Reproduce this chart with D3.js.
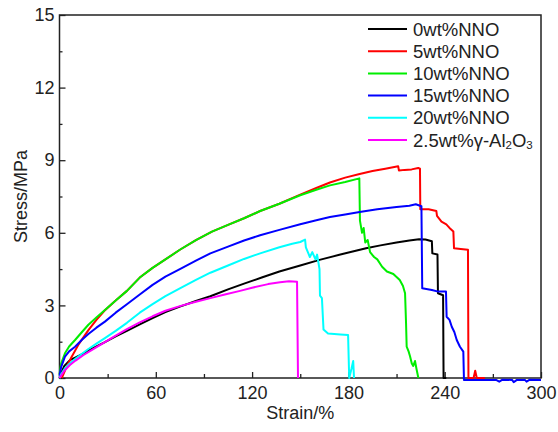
<!DOCTYPE html>
<html>
<head>
<meta charset="utf-8">
<script src="https://cdn.jsdelivr.net/npm/d3@7"></script>
<style>
  body { margin: 0; background: #fff; }
  svg text { font-family: Arial, "Liberation Sans", sans-serif; fill: #222; }
</style>
</head>
<body>
<script>
// series values: [strain %, stress MPa]
var black = [[0,0],[1,0.2],[3,0.5],[6.5,0.74],[10,0.85],[15,1.02],[20,1.2],[28,1.47],[35,1.72],[42,1.95],[50,2.22],[58,2.48],[66,2.72],[75,2.95],[85,3.18],[94,3.38],[105,3.66],[115,3.9],[126,4.15],[137,4.4],[150,4.65],[162,4.88],[175,5.1],[191,5.36],[200,5.48],[210,5.6],[218,5.68],[224,5.73],[228,5.72],[232,5.65],[232.3,5.15],[235.5,5.1],[235.8,3.5],[239,3.42],[239.3,0],[241,0]];
var red = [[1.4,0],[4,0.4],[7.6,0.88],[12,1.4],[18,1.98],[23,2.4],[28,2.78],[35,3.2],[42,3.6],[50,4.15],[58,4.55],[66,4.9],[75,5.3],[85,5.7],[95,6.05],[105,6.33],[115,6.6],[125,6.9],[137,7.2],[150,7.58],[160,7.85],[168.5,8.08],[178,8.28],[187,8.43],[195,8.55],[203,8.65],[211,8.75],[211.5,8.57],[215,8.6],[219.4,8.62],[223.5,8.68],[224.6,8.65],[224.8,6.97],[230,6.97],[234.8,6.9],[235.2,6.7],[238,6.46],[241,6.35],[243,6.2],[245.4,6.05],[245.8,5.36],[250,5.33],[254.5,5.3],[254.8,0],[258,0],[259,0.3],[260,0],[265,0]];
var green = [[0,0.15],[1,0.6],[3.4,1.02],[6,1.3],[9.7,1.57],[14,1.9],[18,2.2],[23,2.5],[28.3,2.81],[35,3.2],[42,3.6],[50,4.15],[58,4.55],[66,4.9],[75,5.3],[85,5.7],[95,6.05],[105,6.33],[115,6.6],[125,6.9],[137,7.2],[150,7.55],[160,7.78],[168.5,7.96],[178,8.1],[186.8,8.25],[187.2,6.5],[188.5,6.0],[189.5,6.2],[190.5,5.6],[192,5.7],[193.5,5.2],[196,5.0],[198,4.9],[201,4.6],[204,4.4],[208,4.3],[212,4.05],[214,3.8],[215.3,3.5],[215.9,2.3],[216.3,1.3],[217.5,1.1],[218.4,0.9],[219.5,0.6],[220.4,0.5],[221.5,0.7],[222.5,0.35],[223.6,0]];
var blue = [[0,0.1],[1,0.45],[3.4,0.88],[6,1.1],[9.7,1.29],[14,1.58],[18,1.82],[23,2.08],[28.3,2.33],[35,2.7],[42,3.05],[50,3.45],[58,3.85],[66,4.19],[75,4.5],[85,4.85],[94,5.15],[105,5.43],[115,5.68],[125,5.9],[137,6.12],[150,6.35],[160,6.52],[168.5,6.65],[178,6.76],[187,6.86],[198,6.97],[210,7.07],[218,7.12],[222,7.18],[225.5,7.1],[226,3.71],[232,3.64],[236,3.57],[240.8,3.57],[241.2,2.53],[243,2.4],[244.4,2.12],[246,1.9],[247.5,1.57],[249.5,1.29],[251.6,1.09],[252,-0.08],[272,-0.08],[274,-0.15],[276,-0.07],[282,-0.08],[283,-0.17],[285,-0.08],[290,-0.08],[291,-0.15],[293,-0.07],[300,-0.08]];
var cyan = [[0,0],[1,0.15],[3.4,0.4],[6,0.58],[9.7,0.78],[14,1.0],[18,1.2],[23,1.42],[28.3,1.65],[35,1.95],[42,2.28],[50,2.7],[58,3.05],[66,3.38],[75,3.7],[85,4.05],[94,4.35],[105,4.65],[115,4.92],[125,5.15],[137,5.4],[145,5.55],[150,5.62],[153,5.72],[153.5,5.4],[156,5.0],[157.5,5.2],[159.5,4.9],[160.5,5.1],[162,4.5],[162.3,3.4],[163.5,3.3],[164.5,2.0],[167.3,1.84],[175,1.8],[179.8,1.78],[180.5,0],[182,0.4],[183,0.7],[183.5,0]];
var magenta = [[0,0],[1,0.1],[3,0.3],[6.5,0.54],[10,0.72],[15,0.95],[20,1.15],[28.3,1.48],[35,1.75],[42,2.02],[50,2.3],[58,2.55],[66,2.78],[75,2.97],[85,3.15],[94,3.3],[103,3.45],[112.5,3.6],[120,3.73],[130,3.88],[137.4,3.96],[143,4.0],[148,3.98],[148.6,0]];

var seriesNames = ['0wt%NNO', '5wt%NNO', '10wt%NNO', '15wt%NNO', '20wt%NNO', '2.5wt%γ-Al2O3'];
var seriesColors = ['#000000', '#ff0000', '#00ee00', '#0000ff', '#00ffff', '#ff00ff'];
var seriesData = [black, red, green, blue, cyan, magenta];

var xMajor = [0, 60, 120, 180, 240, 300];
var xMinor = [30, 90, 150, 210, 270];
var yMajor = [0, 3, 6, 9, 12, 15];
var yMinor = [1.5, 4.5, 7.5, 10.5, 13.5];

var width = 558, height = 432;
var plotL = 59.5, plotR = 541, plotT = 15, plotB = 378;

var svg = d3.select('body').append('svg').attr('width', width).attr('height', height);

var x = d3.scaleLinear().domain([0, 300]).range([plotL, plotR]);
var y = d3.scaleLinear().domain([0, 15]).range([plotB, plotT]);

// axes, ticks point inward
svg.append('g').attr('transform', 'translate(0,' + plotB + ')')
  .call(d3.axisBottom(x).tickValues(xMajor).tickSizeInner(-6).tickSizeOuter(0).tickPadding(8).tickFormat(d3.format('d')));
svg.append('g').attr('transform', 'translate(0,' + plotB + ')')
  .call(d3.axisBottom(x).tickValues(xMinor).tickSizeInner(-4).tickSizeOuter(0).tickFormat(''));
svg.append('g').attr('transform', 'translate(' + plotL + ',0)')
  .call(d3.axisLeft(y).tickValues(yMajor).tickSizeInner(-6).tickSizeOuter(0).tickPadding(5).tickFormat(d3.format('d')));
svg.append('g').attr('transform', 'translate(' + plotL + ',0)')
  .call(d3.axisLeft(y).tickValues(yMinor).tickSizeInner(-3).tickSizeOuter(0).tickFormat(''));

svg.selectAll('.domain').remove();
svg.selectAll('.tick line').attr('stroke', '#222').attr('stroke-width', 1.3);
svg.selectAll('.tick text').attr('font-size', 18).attr('fill', '#222');

// frame
svg.append('rect')
  .attr('x', plotL).attr('y', plotT)
  .attr('width', plotR - plotL).attr('height', plotB - plotT)
  .attr('fill', 'none').attr('stroke', '#222').attr('stroke-width', 1.5);

// curves
var line = d3.line()
  .x(function (d) { return x(d[0]); })
  .y(function (d) { return y(d[1]); });

svg.selectAll('path.curve')
  .data(seriesData)
  .enter()
  .append('path')
  .attr('class', 'curve')
  .attr('d', line)
  .attr('fill', 'none')
  .attr('stroke', function (d, i) { return seriesColors[i]; })
  .attr('stroke-width', 2)
  .attr('stroke-linejoin', 'round');

// axis titles
svg.append('text')
  .attr('x', (plotL + plotR) / 2).attr('y', 419)
  .attr('text-anchor', 'middle').attr('font-size', 18)
  .text('Strain/%');
svg.append('text')
  .attr('transform', 'translate(27,' + (plotT + plotB) / 2 + ') rotate(-90)')
  .attr('text-anchor', 'middle').attr('font-size', 18)
  .text('Stress/MPa');

// legend
var legend = svg.append('g').attr('transform', 'translate(368,29)');
var rows = legend.selectAll('g')
  .data(seriesNames)
  .enter()
  .append('g')
  .attr('transform', function (d, i) { return 'translate(0,' + i * 22.2 + ')'; });
rows.append('line')
  .attr('x1', 0).attr('x2', 39).attr('y1', 0).attr('y2', 0)
  .attr('stroke', function (d, i) { return seriesColors[i]; })
  .attr('stroke-width', 2);
rows.append('text')
  .attr('x', 45).attr('y', 6.5).attr('font-size', 18.5)
  .each(function (d) {
    var t = d3.select(this);
    if (d.indexOf('Al2O3') < 0) { t.text(d); return; }
    t.append('tspan').text('2.5wt%γ-Al');
    t.append('tspan').attr('font-size', 11.5).attr('dy', 2).text('2');
    t.append('tspan').attr('dy', -2).text('O');
    t.append('tspan').attr('font-size', 11.5).attr('dy', 2).text('3');
  });
</script>
</body>
</html>
